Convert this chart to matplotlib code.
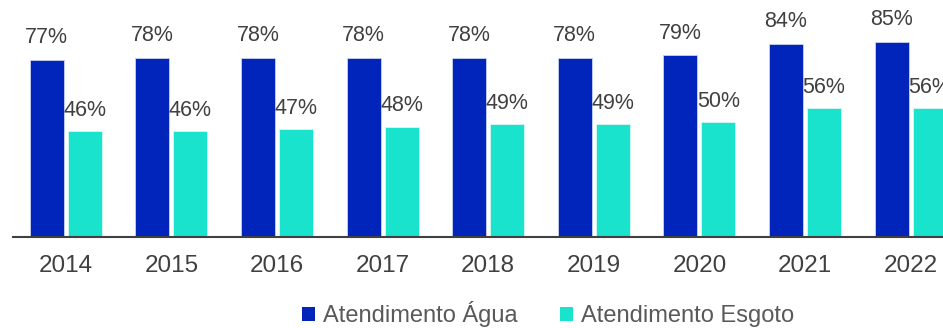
import matplotlib
matplotlib.use("Agg")
import matplotlib.pyplot as plt
from matplotlib.patches import Patch
import numpy as np

plt.rcParams['font.family'] = ['Liberation Sans', 'DejaVu Sans']

years = ["2014", "2015", "2016", "2017", "2018", "2019", "2020", "2021", "2022"]
agua = [77, 78, 78, 78, 78, 78, 79, 84, 85]
esgoto = [46, 46, 47, 48, 49, 49, 50, 56, 56]
series_names = ["Atendimento Água", "Atendimento Esgoto"]

c_agua = "#0124BA"
c_esgoto = "#19E3CC"
text_c = "#404040"

fig = plt.figure(figsize=(9.43, 3.28), dpi=100)
W, H = 943, 328
ax = fig.add_axes([13 / W, (H - 237) / H, 1 - 13 / W, 237 / H])

x = np.arange(len(years))
w = 0.322
off = 0.18
ax.bar(x - off, agua, width=w, color=c_agua, edgecolor="#c8d2f0", linewidth=0.6)
ax.bar(x + off, esgoto, width=w, color=c_esgoto, edgecolor="#d8f8f2", linewidth=0.6)

for xi, v in zip(x, agua):
    ax.annotate(f"{v}%", (xi - off, v), xytext=(0, 12), textcoords="offset points",
                ha="center", va="baseline", fontsize=15.5, color=text_c)
for xi, v in zip(x, esgoto):
    ax.annotate(f"{v}%", (xi + off, v), xytext=(0, 11), textcoords="offset points",
                ha="center", va="baseline", fontsize=15.5, color=text_c)

ax.set_xlim(-0.5, -0.5 + (W - 13) / 105.6)
ax.set_ylim(0, 237 / 2.3)
ax.set_xticks(x)
ax.set_xticklabels(years, fontsize=17.5, color=text_c)
ax.tick_params(axis="x", length=0, pad=13)
ax.set_yticks([])
for s in ["top", "right", "left"]:
    ax.spines[s].set_visible(False)
ax.spines["bottom"].set_color(text_c)
ax.spines["bottom"].set_linewidth(1.5)
ax.set_facecolor("none")

handles = [Patch(facecolor=c_agua, edgecolor="none"), Patch(facecolor=c_esgoto, edgecolor="none")]
fig.legend(handles, series_names, loc="center", bbox_to_anchor=(548 / W, 14 / H),
           ncol=2, frameon=False, fontsize=17, labelcolor="#595959",
           handlelength=0.55, handleheight=0.55, handletextpad=0.35,
           columnspacing=1.8, borderpad=0, borderaxespad=0)

fig.savefig("out.png", dpi=100)
